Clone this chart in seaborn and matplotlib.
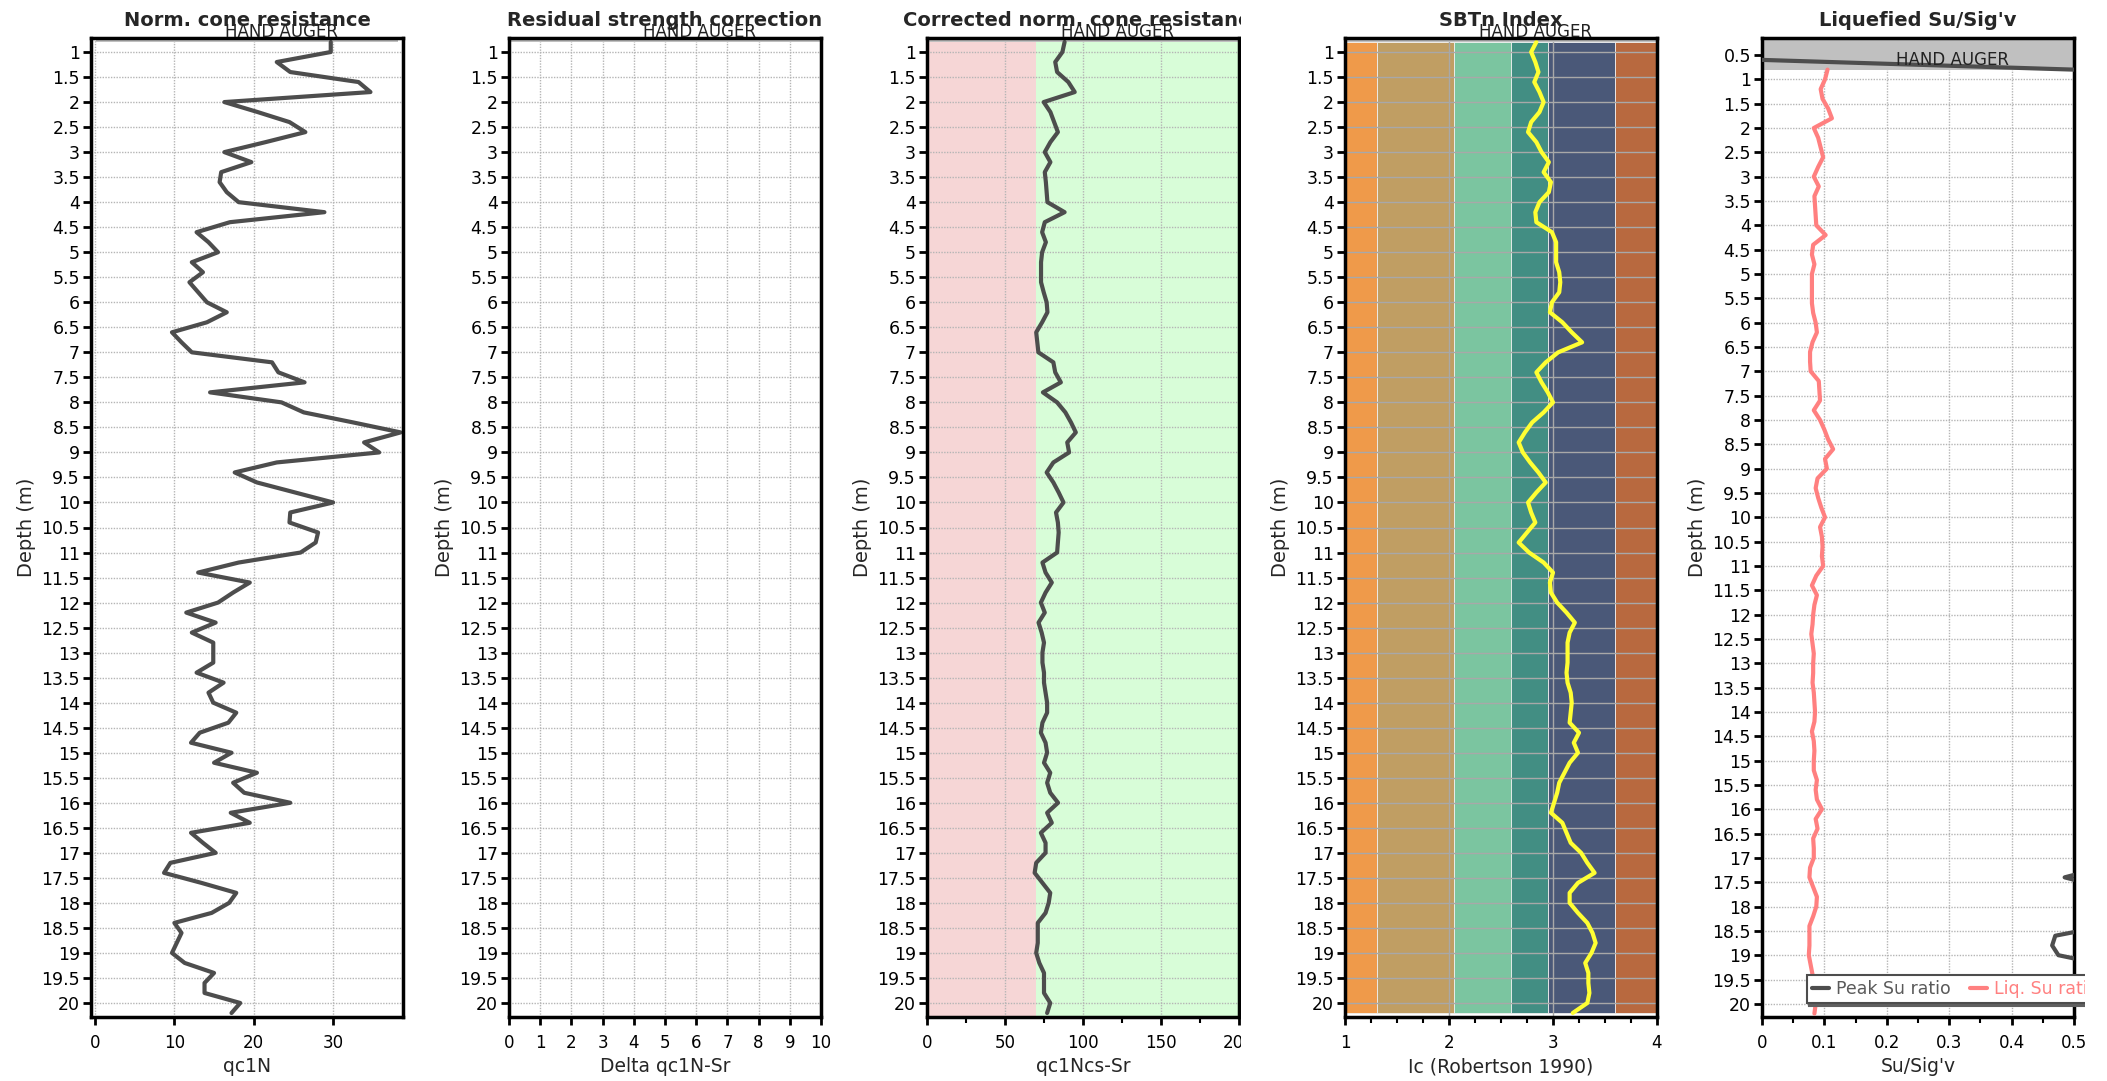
import numpy as np
import matplotlib
matplotlib.use("Agg")
import matplotlib.pyplot as plt
import matplotlib.transforms as mtransforms
from matplotlib.patches import Rectangle
from matplotlib.ticker import MultipleLocator, FuncFormatter
import seaborn as sns

# CPT sounding, one reading every 0.2 m below the hand auger hole
depth = np.round(np.arange(0.8, 20.21, 0.2), 1)

qc1N = [29.7, 29.7, 22.9, 24.6, 33.2, 34.7, 16.3, 20.5, 24.5, 26.5,
        21.5, 16.3, 19.7, 15.9, 15.7, 16.6, 18.1, 28.9, 17.0, 12.8,
        14.3, 15.5, 12.2, 13.6, 11.9, 13.0, 14.1, 16.6, 14.1, 9.7,
        10.9, 12.2, 22.3, 23.1, 26.4, 14.5, 23.5, 26.3, 32.5, 38.5,
        33.9, 35.8, 22.9, 17.6, 20.4, 25.2, 30.0, 24.6, 24.5, 28.1,
        27.8, 25.9, 18.1, 13.0, 19.5, 17.4, 15.5, 11.5, 15.2, 12.2,
        14.9, 14.9, 14.9, 12.8, 16.2, 14.3, 14.9, 17.8, 16.8, 13.2,
        12.1, 17.2, 15.0, 20.4, 17.4, 18.8, 24.6, 17.1, 19.5, 12.1,
        13.6, 15.2, 9.5, 8.7, 13.4, 17.8, 16.9, 14.7, 10.0, 10.9,
        10.3, 9.7, 11.3, 15.0, 13.8, 13.8, 18.3, 17.2]

qc1Ncs_Sr = [88.2, 86.8, 82.2, 83.4, 90.6, 94.7, 74.8, 79.1, 81.5, 83.9,
             79.1, 75.5, 79.1, 75.5, 76.2, 76.7, 77.2, 88.2, 75.5, 73.8,
             76.2, 73.8, 73.1, 73.1, 73.1, 74.8, 76.7, 77.2, 73.8, 70.0,
             70.7, 71.4, 81.0, 82.2, 85.8, 74.3, 83.4, 88.7, 92.3, 95.4,
             89.9, 91.1, 81.0, 76.7, 81.0, 84.4, 87.5, 82.7, 83.9, 84.4,
             83.9, 83.4, 74.0, 76.0, 80.0, 76.0, 73.0, 75.5, 71.5, 73.5,
             75.0, 74.0, 74.0, 75.0, 75.0, 76.0, 77.0, 77.0, 74.0, 73.0,
             76.0, 77.0, 75.0, 79.0, 77.0, 79.0, 84.0, 77.0, 80.0, 73.0,
             76.0, 76.0, 70.0, 69.0, 74.0, 79.0, 78.0, 76.0, 71.0, 71.0,
             71.0, 70.0, 72.0, 75.0, 75.0, 75.0, 79.0, 77.0]

Ic = [2.84, 2.79, 2.83, 2.86, 2.82, 2.87, 2.91, 2.87, 2.79, 2.76,
      2.84, 2.89, 2.96, 2.91, 2.98, 2.96, 2.87, 2.83, 2.84, 2.99,
      3.03, 3.03, 3.03, 3.06, 3.07, 3.06, 2.99, 2.97, 3.09, 3.18,
      3.28, 3.05, 2.93, 2.84, 2.89, 2.95, 3.00, 2.91, 2.80, 2.73,
      2.67, 2.71, 2.78, 2.86, 2.93, 2.84, 2.76, 2.79, 2.83, 2.75,
      2.67, 2.77, 2.91, 3.00, 2.97, 2.98, 3.04, 3.13, 3.21, 3.16,
      3.14, 3.14, 3.14, 3.13, 3.14, 3.17, 3.18, 3.17, 3.16, 3.25,
      3.20, 3.24, 3.16, 3.11, 3.06, 3.04, 3.01, 2.98, 3.09, 3.13,
      3.17, 3.27, 3.33, 3.40, 3.24, 3.16, 3.16, 3.24, 3.33, 3.38,
      3.41, 3.37, 3.31, 3.34, 3.34, 3.35, 3.33, 3.19]

liq_su = [0.105, 0.101, 0.094, 0.097, 0.106, 0.112, 0.083, 0.090, 0.094, 0.098,
          0.090, 0.083, 0.091, 0.084, 0.085, 0.086, 0.087, 0.102, 0.082, 0.080,
          0.084, 0.080, 0.080, 0.080, 0.080, 0.082, 0.086, 0.088, 0.081, 0.077,
          0.077, 0.078, 0.091, 0.092, 0.093, 0.083, 0.093, 0.100, 0.106, 0.114,
          0.101, 0.104, 0.089, 0.086, 0.090, 0.095, 0.101, 0.093, 0.096, 0.097,
          0.096, 0.098, 0.087, 0.080, 0.088, 0.084, 0.082, 0.081, 0.079, 0.081,
          0.083, 0.082, 0.082, 0.081, 0.083, 0.084, 0.085, 0.084, 0.080, 0.083,
          0.084, 0.083, 0.083, 0.088, 0.086, 0.088, 0.096, 0.086, 0.089, 0.082,
          0.083, 0.083, 0.077, 0.076, 0.082, 0.088, 0.087, 0.082, 0.076, 0.076,
          0.076, 0.075, 0.078, 0.081, 0.082, 0.082, 0.086, 0.084]

# peak Su ratio also has a reading inside the hand auger hole (0.6 m)
peak_depth = np.round(np.arange(0.6, 20.21, 0.2), 1)
peak_su = [0.00, 0.50, 0.92, 0.86, 0.88, 1.02, 1.05, 0.78, 0.82, 0.86, 0.90,
           0.84, 0.79, 0.80, 0.76, 0.77, 0.76, 0.80, 0.97, 0.75, 0.72,
           0.72, 0.70, 0.70, 0.69, 0.68, 0.70, 0.73, 0.74, 0.68, 0.63,
           0.62, 0.66, 0.78, 0.81, 0.82, 0.72, 0.79, 0.86, 0.93, 0.99,
           0.95, 0.97, 0.80, 0.74, 0.76, 0.82, 0.88, 0.80, 0.81, 0.84,
           0.86, 0.82, 0.69, 0.62, 0.70, 0.68, 0.63, 0.60, 0.58, 0.60,
           0.61, 0.61, 0.61, 0.60, 0.61, 0.61, 0.60, 0.62, 0.62, 0.57,
           0.59, 0.60, 0.61, 0.65, 0.64, 0.66, 0.72, 0.63, 0.64, 0.60,
           0.60, 0.57, 0.545, 0.485, 0.545, 0.60, 0.62, 0.58, 0.55, 0.47,
           0.465, 0.475, 0.55, 0.54, 0.55, 0.56, 0.57, 0.60]

# SBTn zone limits (Robertson 1990) and residual strength screening limit
ic_limits = [1.0, 1.31, 2.05, 2.6, 2.95, 3.6, 4.0]
ic_colors = ['#ef9a4a', '#c09e63', '#7bc5a0', '#428e83', '#4a5878', '#b8693f']
qc_limit = 70

titles = ['Norm. cone resistance', 'Residual strength correction',
          'Corrected norm. cone resistance', 'SBTn Index', "Liquefied Su/Sig'v"]
xlabels = ['qc1N', 'Delta qc1N-Sr', 'qc1Ncs-Sr', 'Ic (Robertson 1990)', "Su/Sig'v"]

sns.set_theme(style='white')
plt.rcParams['font.family'] = ['DejaVu Sans']
plt.rcParams.update({
    'axes.linewidth': 2.5, 'axes.edgecolor': 'black',
    'xtick.bottom': True, 'ytick.left': True,
    'xtick.major.size': 6, 'xtick.major.width': 2,
    'xtick.minor.size': 4, 'xtick.minor.width': 1.5,
    'ytick.major.size': 6, 'ytick.major.width': 2,
    'xtick.color': 'black', 'ytick.color': 'black',
    'xtick.labelsize': 12, 'ytick.labelsize': 12.5,
    'xtick.major.pad': 6, 'ytick.major.pad': 2,
})

W, H = 2107, 1081
fig = plt.figure(figsize=(W / 100, H / 100), dpi=100)
lefts = [91, 509, 927, 1345, 1762]
axes = [fig.add_axes([l / W, 1 - 1017 / H, 312 / W, 979 / H]) for l in lefts]

fmt = FuncFormatter(lambda v, p: '{:g}'.format(round(v, 3)))
auger_font = ['Liberation Sans Narrow', 'DejaVu Sans']

for i, ax in enumerate(axes):
    ax.set_facecolor('white')
    ax.grid(True, which='major', color='#b5b5b5', linestyle=(0, (1, 1)), linewidth=1)
    ax.set_title(titles[i], fontsize=14, fontweight='bold', pad=9)
    ax.set_xlabel(xlabels[i], fontsize=13.5)
    ax.set_ylabel('Depth (m)', fontsize=14)
    for s in ax.spines.values():
        s.set_visible(True)
    ax.yaxis.set_major_locator(MultipleLocator(0.5))
    ax.yaxis.set_major_formatter(fmt)
    ax.xaxis.set_major_formatter(fmt)
    if i < 4:
        ax.set_ylim(20.28, 0.72)
        ax.set_yticks(np.arange(1, 20.01, 0.5))
    else:
        ax.set_ylim(20.27, 0.15)
        ax.set_yticks(np.arange(0.5, 20.01, 0.5))
    # hand auger band and label
    xmin, xmax = (0.015, 0.985) if i == 0 else (0, 1)
    ax.axhspan(0, 0.8, xmin=xmin, xmax=xmax, color='#c0c0c0', lw=0, zorder=1)
    trans = mtransforms.blended_transform_factory(ax.transAxes, ax.transData)
    ax.text(0.61, 0.6, 'HAND AUGER', transform=trans, ha='center', va='center',
            fontsize=12, family=auger_font, color='#222222', clip_on=False, zorder=5)

# Panel 1: normalised cone resistance
ax = axes[0]
sns.lineplot(x=qc1N, y=depth, ax=ax, color='#4d4d4d', lw=3, sort=False,
             orient='y', estimator=None)
ax.set_xlim(-0.5, 38.8)
ax.xaxis.set_major_locator(MultipleLocator(10))

# Panel 2: residual strength correction (empty)
ax = axes[1]
ax.set_xlim(0, 10)
ax.xaxis.set_major_locator(MultipleLocator(1))

# Panel 3: corrected normalised cone resistance
ax = axes[2]
ax.axvspan(0, qc_limit, color='#f6d6d6', lw=0, zorder=0)
ax.axvspan(qc_limit, 200, color='#d8fdd8', lw=0, zorder=0)
sns.lineplot(x=qc1Ncs_Sr, y=depth, ax=ax, color='#4d4d4d', lw=3, sort=False,
             orient='y', estimator=None)
ax.set_xlim(0, 200)
ax.xaxis.set_major_locator(MultipleLocator(50))
ax.xaxis.set_minor_locator(MultipleLocator(25))
# long title is cut at the track edge in the original
clip = mtransforms.TransformedBbox(mtransforms.Bbox([[0, 0], [1241 / W, 1]]),
                                   fig.transFigure)
ax.title.set_clip_box(clip)
ax.title.set_clip_on(True)

# Panel 4: SBTn index with Robertson zones
ax = axes[3]
for lo, hi, c in zip(ic_limits[:-1], ic_limits[1:], ic_colors):
    ax.fill_betweenx([depth[0], depth[-1]], lo, hi, facecolor=c,
                     edgecolor='#f0f0f0', linewidth=0.6, zorder=0)
ax.grid(True, which='major', color='#a8a8a8', linestyle='-', linewidth=1)
sns.lineplot(x=Ic, y=depth, ax=ax, color='#ffff33', lw=3, sort=False,
             orient='y', estimator=None)
ax.set_xlim(1, 4)
ax.xaxis.set_major_locator(MultipleLocator(1))
ax.xaxis.set_minor_locator(MultipleLocator(0.25))

# Panel 5: liquefied strength ratio
ax = axes[4]
sns.lineplot(x=peak_su, y=peak_depth, ax=ax, color='#4d4d4d', lw=3, sort=False,
             orient='y', estimator=None, label='Peak Su ratio', zorder=3)
sns.lineplot(x=liq_su, y=depth, ax=ax, color='#ff8080', lw=3, sort=False,
             orient='y', estimator=None, label='Liq. Su ratio', zorder=3)
ax.set_xlim(0, 0.5)
ax.xaxis.set_major_locator(MultipleLocator(0.1))
ax.xaxis.set_minor_locator(MultipleLocator(0.05))
leg = ax.legend(loc='lower left', bbox_to_anchor=(0.115, 0.005), ncol=2,
                fontsize=12.5, frameon=True, fancybox=False,
                shadow={'color': '#606060', 'alpha': 1},
                handlelength=1.0, handletextpad=0.4, columnspacing=1.1,
                borderpad=0.3, labelcolor=['#5a5a5a', '#ff8080'])
leg.get_frame().set_edgecolor('#4d4d4d')
leg.get_frame().set_linewidth(1.5)
leg.get_frame().set_alpha(1)

# each track is cut at its own canvas edge in the original
fig.add_artist(Rectangle((1241 / W, 0), 17 / W, 1, transform=fig.transFigure,
                         facecolor='white', edgecolor='none', zorder=10))
fig.add_artist(Rectangle((2085 / W, 0), 22 / W, 1, transform=fig.transFigure,
                         facecolor='white', edgecolor='none', zorder=10))

fig.savefig('out.png', dpi=100, facecolor='white')
